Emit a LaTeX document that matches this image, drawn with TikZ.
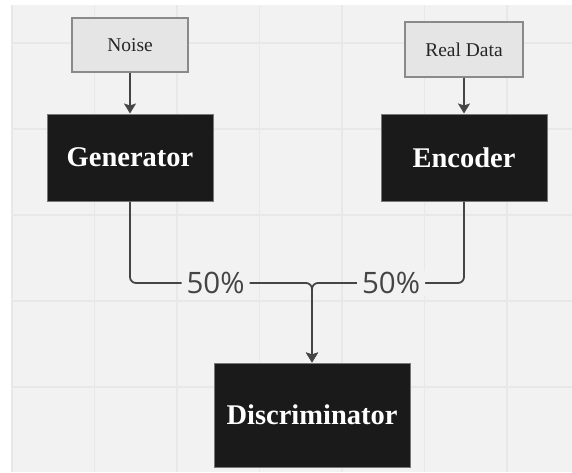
\documentclass[tikz,border=0pt]{standalone}
\usepackage{fontspec}
\setmainfont{Liberation Serif}
\newfontfamily\pctfont{Open Sans}
\usetikzlibrary{arrows.meta}
\definecolor{canvas}{HTML}{F2F2F2}
\definecolor{gridgray}{HTML}{E8E8E8}
\definecolor{srcfill}{HTML}{E5E5E5}
\definecolor{srcline}{HTML}{8A8A8A}
\definecolor{netfill}{HTML}{1A1A1A}
\definecolor{netline}{HTML}{777777}
\definecolor{linkgray}{HTML}{454545}
\definecolor{pcttext}{HTML}{444444}

\begin{document}
\begin{tikzpicture}[x=1pt,y=-1pt,
  srcbox/.style={draw=srcline, fill=srcfill, line width=1.5pt, inner sep=0pt,
    font=\fontsize{19.5}{22}\selectfont, text=black!85},
  netbox/.style={draw=netline, fill=netfill, line width=1pt, inner sep=0pt,
    text=white, font=\fontsize{28.5}{32}\selectfont\bfseries},
  flow/.style={draw=linkgray, line width=1.8pt, rounded corners=6pt,
    -{Stealth[length=10pt,width=12pt,inset=2pt]}},
  pct/.style={fill=canvas, inner sep=5pt, text=pcttext,
    font=\pctfont\fontsize{29.5}{32}\selectfont},
  gridline/.style={draw=gridgray, line width=1.2pt}]
\useasboundingbox (0,0) rectangle (572,472);
% canvas and grid
\fill[white] (0,0) rectangle (572,472);
\fill[canvas] (11,5) rectangle (572,472);
\foreach \x in {12,94.5,...,560}
  \draw[gridline] (\x,5) -- (\x,472);
\foreach \y in {43,129,...,472}
  \draw[gridline] (11,\y) -- (572,\y);

% inputs
\node[srcbox, minimum width=116pt, minimum height=54pt] (noise) at (130,45) {Noise};
\node[srcbox, minimum width=118pt, minimum height=55pt] (real) at (464,49.5) {Real Data};

% networks
\node[netbox, minimum width=166pt, minimum height=87pt] (gen) at (130,157.5) {Generator};
\node[netbox, minimum width=166pt, minimum height=87pt] (enc) at (464,157.5) {Encoder};
\node[netbox, minimum width=196pt, minimum height=104pt] (disc) at (312,415) {Discriminator};

\coordinate (join) at (disc.north |- 0,283);

% connectors
\draw[flow] (noise) -- (gen);
\draw[flow] (real) -- (enc);
\draw[flow] (gen) -- (gen |- join) -- node[pct, pos=0.47] {50\%} (join) -- (disc);
\draw[flow] (enc) -- (enc |- join) -- node[pct, pos=0.48] {50\%} (join) -- (disc);
\end{tikzpicture}
\end{document}
